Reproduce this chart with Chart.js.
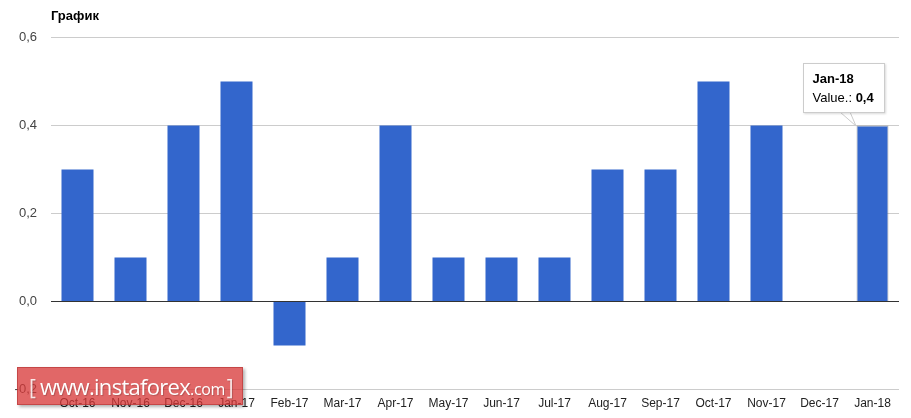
<!DOCTYPE html>
<html>
<head>
<meta charset="utf-8">
<script src="https://cdn.jsdelivr.net/npm/chart.js@4.4.1/dist/chart.umd.min.js"></script>
<style>
  html, body { margin: 0; padding: 0; background: #fff; }
  #wrap { position: relative; width: 911px; height: 418px; overflow: hidden; }
  #tip {
    position: absolute; display: none; background: #fff; border: 1px solid #ccc;
    box-shadow: 1px 1px 2px rgba(0,0,0,0.15);
    font: 13px Arial, "Liberation Sans", sans-serif; color: #000;
    padding: 5px 10px 5px 9px; white-space: nowrap; line-height: 19px;
  }
  #tail { position: absolute; display: none; }
  #wm {
    position: absolute; left: 17px; top: 367px; width: 226px; height: 38px;
    background: rgba(215, 55, 55, 0.76); border: 1px solid rgba(170, 40, 40, 0.5);
    box-shadow: 2px 2px 3px rgba(0,0,0,0.3);
    color: #fff; font-family: "Open Sans", Arial, sans-serif;
    line-height: 36px; white-space: nowrap; padding-left: 11px; box-sizing: border-box;
    text-shadow: 1px 1px 1px rgba(0,0,0,0.2);
  }
  #wm .br { font-size: 21px; color: rgba(255,255,255,0.85); }
  #wm .www { font-size: 22px; letter-spacing: -0.7px; margin-left: 4px; }
  #wm .com { font-size: 16px; letter-spacing: -0.4px; margin-right: 2px; }
</style>
</head>
<body>
<div id="wrap">
  <canvas id="chart" width="911" height="418"></canvas>
  <svg id="tail" width="30" height="16"><polygon points="0,0 10,0 16,14" fill="#fff" stroke="#ccc"/><line x1="0" y1="0" x2="10" y2="0" stroke="#fff" stroke-width="2"/></svg>
  <div id="tip"></div>
  <div id="wm"><span class="br">[</span><span class="www">www.instaforex</span><span class="com">.com</span><span class="br">]</span></div>
</div>
<script>
// chart data
const months = ['Oct-16', 'Nov-16', 'Dec-16', 'Jan-17', 'Feb-17', 'Mar-17', 'Apr-17', 'May-17',
  'Jun-17', 'Jul-17', 'Aug-17', 'Sep-17', 'Oct-17', 'Nov-17', 'Dec-17', 'Jan-18'];
const values = [0.3, 0.1, 0.4, 0.5, -0.1, 0.1, 0.4, 0.1, 0.1, 0.1, 0.3, 0.3, 0.5, 0.4, 0, 0.4];
const yTicks = [-0.2, 0, 0.2, 0.4, 0.6];
const seriesName = 'Value.';
const activeIndex = 15;

const fmt = v => v.toFixed(1).replace('.', ',');

// html tooltip like the google one
function externalTip(ctx) {
  const tt = ctx.tooltip;
  const tip = document.getElementById('tip');
  const tail = document.getElementById('tail');
  if (tt.opacity === 0) { tip.style.display = 'none'; tail.style.display = 'none'; return; }
  const i = tt.dataPoints[0].dataIndex;
  tip.innerHTML = '<b>' + months[i] + '</b><br>' + seriesName + ': <b>' + fmt(values[i]) + '</b>';
  tip.style.display = 'block';
  const w = tip.offsetWidth, h = tip.offsetHeight;
  const left = tt.caretX + 12 - w;
  const top = tt.caretY - 13 - h;
  tip.style.left = left + 'px';
  tip.style.top = top + 'px';
  tail.style.display = 'block';
  tail.style.left = (tt.caretX - 33) + 'px';
  tail.style.top = (top + h - 1) + 'px';
}

const chart = new Chart(document.getElementById('chart'), {
  type: 'bar',
  data: {
    labels: months,
    datasets: [{
      label: seriesName,
      data: values,
      backgroundColor: '#3366cc',
      hoverBackgroundColor: '#3366cc',
      hoverBorderColor: 'rgba(120,120,120,0.6)',
      hoverBorderWidth: 1,
      categoryPercentage: 1,
      barPercentage: 0.604
    }]
  },
  options: {
    responsive: false,
    animation: false,
    events: [],
    layout: { padding: { left: 0, right: 12, top: 0, bottom: 0 } },
    plugins: {
      legend: { display: false },
      title: {
        display: true, text: 'График', align: 'start', fullSize: false,
        color: '#000', font: { family: 'Arial, "Liberation Sans"', size: 13, weight: 'bold' },
        padding: { top: 9, bottom: 13 }
      },
      tooltip: { enabled: false, external: externalTip }
    },
    scales: {
      x: {
        grid: { display: false, drawTicks: false },
        border: { display: false },
        ticks: { color: '#222', padding: 7, font: { family: 'Arial, "Liberation Sans"', size: 12 }, maxRotation: 0, autoSkip: false }
      },
      y: {
        min: yTicks[0], max: yTicks[yTicks.length - 1],
        afterBuildTicks: s => { s.ticks = yTicks.map(v => ({ value: v })); },
        afterFit: s => { s.width = 51; },
        grid: {
          drawTicks: false,
          color: c => c.tick && Math.abs(c.tick.value) < 1e-9 ? '#333' : '#ccc'
        },
        border: { display: false },
        ticks: {
          color: '#444', padding: 14, font: { family: 'Arial, "Liberation Sans"', size: 13 },
          callback: v => fmt(v)
        }
      }
    }
  }
});

chart.setActiveElements([{ datasetIndex: 0, index: activeIndex }]);
const bar = chart.getDatasetMeta(0).data[activeIndex];
chart.tooltip.setActiveElements([{ datasetIndex: 0, index: activeIndex }], { x: bar.x, y: bar.y });
chart.update();
</script>
</body>
</html>
